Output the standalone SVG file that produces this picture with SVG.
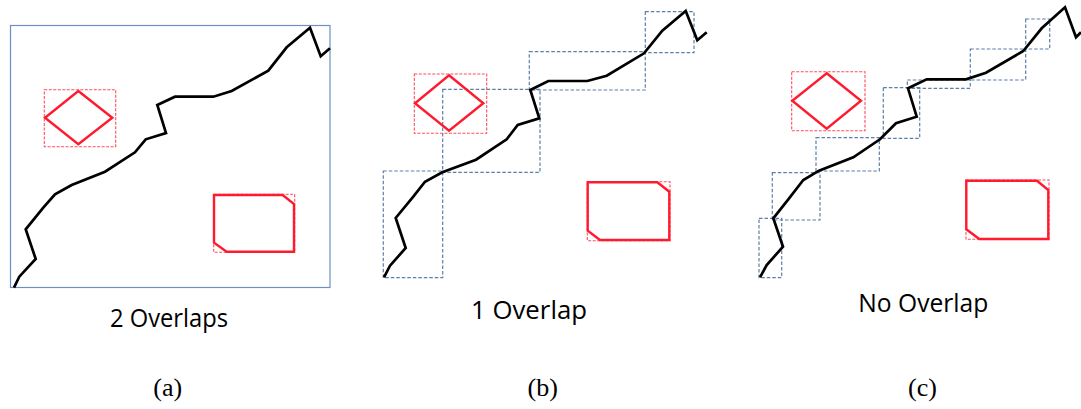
<svg xmlns="http://www.w3.org/2000/svg" width="1081" height="409" viewBox="0 0 1081 409">
<style>
.path{fill:none;stroke:#000;stroke-width:2.7;stroke-linejoin:miter}
.obs{fill:none;stroke:#ff1a2e;stroke-width:2.4}
.bbox{fill:none;stroke:#ff4d5e;stroke-width:1.1;stroke-dasharray:3 1.5}
.cell{fill:none;stroke:#5b7fa8;stroke-width:1.2;stroke-dasharray:3.5 2}
.frame{fill:none;stroke:#6f8fc4;stroke-width:1.2}
.lbl{font-family:"Open Sans","Noto Sans",sans-serif;font-size:25.5px;fill:#000}
.cap{font-family:"Liberation Serif","DejaVu Serif",serif;font-size:26px;fill:#000;text-anchor:middle}
</style>
<rect width="1081" height="409" fill="#fff"/>

<g id="panel-a">
  <rect class="frame" x="10.5" y="25.5" width="319.5" height="262"/>
  <g id="a-obstacle-diamond">
    <rect class="bbox" x="44.3" y="89.7" width="71.4" height="57"/>
    <polygon class="obs" points="78.3,91 112.3,117.7 78.3,144.3 45,117.7"/>
  </g>
  <g id="a-obstacle-rect">
    <rect class="bbox" x="213.7" y="194.3" width="81" height="58"/>
    <polygon class="obs" points="214,195 282.7,195 294,204 294,251.7 226.7,251.7 214,242.7"/>
  </g>
  <g id="a-path">
    <polyline class="path" points="14,287.7 19.3,276.7 35.7,259 25.7,229.3 43.3,207.7 55,194.3 71.7,185 105,171.7 135,152.3 145.7,139.3 166,133 157.3,105 175,96.7 213.3,96.7 231.7,91 268.3,70.7 286.7,47.3 310,27.7 320.7,56.3 330,48.3"/>
  </g>
</g>

<g id="panel-b">
  <g id="b-cells">
    <rect class="cell" x="383.3" y="171" width="59.4" height="106.7"/>
    <rect class="cell" x="442.7" y="89.3" width="97.3" height="83"/>
    <rect class="cell" x="529.3" y="51.7" width="116" height="38.3"/>
    <rect class="cell" x="645.3" y="11.7" width="48.7" height="41"/>
  </g>
  <g id="b-obstacle-diamond">
    <rect class="bbox" x="414.3" y="74" width="72.4" height="59.3"/>
    <polygon class="obs" points="449,75.3 483.3,103.3 449,130.7 415,103.3"/>
  </g>
  <g id="b-obstacle-rect">
    <rect class="bbox" x="587.3" y="181.7" width="82.7" height="59"/>
    <polygon class="obs" points="587.7,182.3 657.3,182.3 669.3,191.7 669.3,240 600,240 587.7,230.7"/>
  </g>
  <g id="b-path">
    <polyline class="path" points="384,277.3 390,265.7 405.7,248 395.7,218 413.3,196.7 425,181.7 442.3,172.3 476,159.7 506.7,139.3 517.7,125 539.3,118.3 530.3,90 548.3,81 587.3,81 606.7,75.7 644,53.3 662.3,30.7 685.7,11 697.3,40.3 706.7,32.3"/>
  </g>
</g>

<g id="panel-c">
  <g id="c-cells">
    <rect class="cell" x="759" y="218.3" width="22.7" height="59.4"/>
    <rect class="cell" x="772.3" y="172.7" width="47.7" height="47.3"/>
    <rect class="cell" x="816" y="137.7" width="63.3" height="33.3"/>
    <rect class="cell" x="883.3" y="87.7" width="36.4" height="50.6"/>
    <rect class="cell" x="907.3" y="80" width="63" height="8.3"/>
    <rect class="cell" x="970.3" y="49" width="55.4" height="31"/>
    <rect class="cell" x="1025.7" y="19" width="24" height="30"/>
  </g>
  <g id="c-obstacle-diamond">
    <rect class="bbox" x="791.7" y="71.7" width="73.3" height="59"/>
    <polygon class="obs" points="826.7,73.3 861,100.7 826.7,128.7 792.3,100.7"/>
  </g>
  <g id="c-obstacle-rect">
    <rect class="bbox" x="966" y="180" width="83" height="59.3"/>
    <polygon class="obs" points="966.3,180.7 1037,180.7 1048.3,190 1048.3,239 979.3,239 966.3,229.3"/>
  </g>
  <g id="c-path">
    <polyline class="path" points="760,277.3 766.7,265 783,246.7 773.3,218.3 788.3,199.3 803.3,180 819,170.7 853.3,157.3 880,139.3 896,123.3 916.7,116.7 908,88.3 926.7,79.3 966,79.3 986,72.7 1023.3,51 1041.7,28.3 1065,7.3 1076,37.3 1081,32.3"/>
  </g>
</g>

<g id="labels">
  <text class="lbl" x="110" y="327" textLength="118" lengthAdjust="spacingAndGlyphs">2 Overlaps</text>
  <text class="lbl" x="471" y="318.5" textLength="116" lengthAdjust="spacingAndGlyphs">1 Overlap</text>
  <text class="lbl" x="858.3" y="312" textLength="130" lengthAdjust="spacingAndGlyphs">No Overlap</text>
  <text class="cap" x="167.7" y="396">(a)</text>
  <text class="cap" x="542.7" y="396">(b)</text>
  <text class="cap" x="922.5" y="396">(c)</text>
</g>
</svg>
